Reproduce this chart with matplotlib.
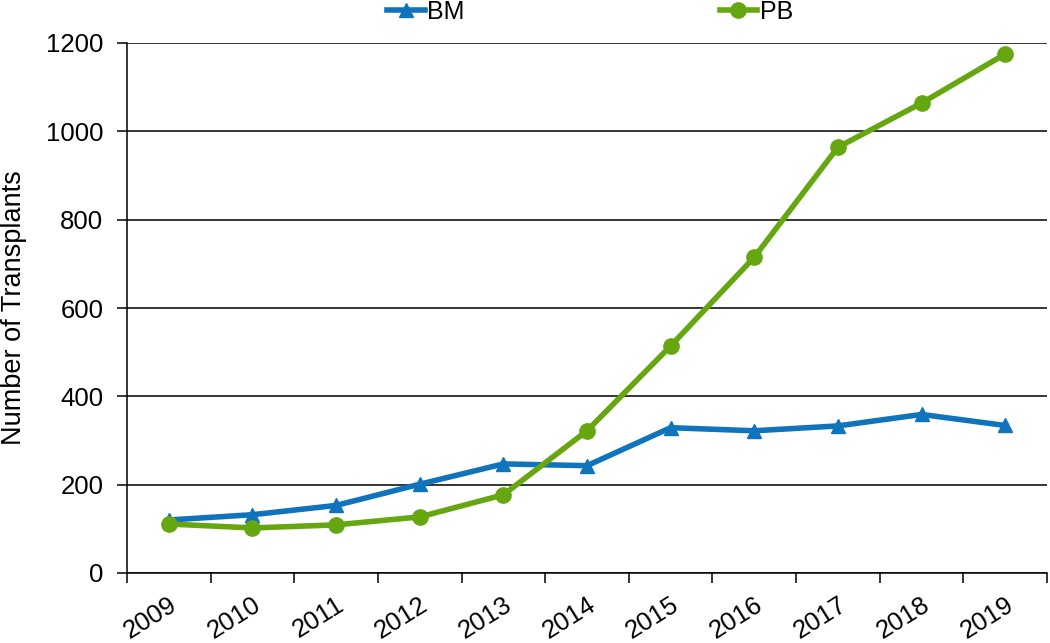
import matplotlib
matplotlib.use("Agg")
import matplotlib.pyplot as plt

years = ["2009", "2010", "2011", "2012", "2013", "2014", "2015", "2016", "2017", "2018", "2019"]
bm = [120, 132, 153, 201, 247, 243, 329, 322, 333, 359, 334]
pb = [111, 102, 109, 127, 177, 322, 514, 715, 964, 1064, 1175]
yticks = [0, 200, 400, 600, 800, 1000, 1200]

plt.rcParams['font.family'] = ['Liberation Sans', 'DejaVu Sans']

fig = plt.figure(figsize=(10.5, 6.43), dpi=100)
ax = fig.add_axes([127/1050, 1 - 573/643, 920/1050, 530/643])

x = list(range(len(years)))
blue = "#0F74BC"
green = "#66A611"
ax.plot(x, bm, color=blue, lw=4, marker="^", ms=10, label="BM", zorder=3)
ax.plot(x, pb, color=green, lw=4, marker="o", ms=11, label="PB", zorder=4)

ax.set_xlim(-0.5, len(years) - 0.5)
ax.set_ylim(0, 1200)
ax.set_yticks(yticks)
ax.set_yticklabels([str(v) for v in yticks], fontsize=18.5)
ax.yaxis.grid(True, color="black", lw=1.1)
ax.set_axisbelow(True)

ax.set_xticks([i - 0.5 for i in range(len(years) + 1)])
ax.set_xticklabels([])
ax.set_xticks(x, minor=True)
ax.set_xticklabels(years, minor=True, rotation=32, ha="right", va="top",
                   rotation_mode="anchor", fontsize=18.5)
ax.tick_params(axis="x", which="minor", length=0, pad=14)
ax.tick_params(axis="x", which="major", length=7, width=1.1, direction="out")
ax.tick_params(axis="y", length=7, width=1.1, direction="out", pad=10)

for s in ["top", "right"]:
    ax.spines[s].set_visible(False)
for s in ["left", "bottom"]:
    ax.spines[s].set_linewidth(1.1)
    ax.spines[s].set_color("black")

ax.set_ylabel("Number of Transplants", fontsize=19.5)
ax.yaxis.set_label_coords(-0.109, 0.5)

fig.legend(loc="center", bbox_to_anchor=(590/1050, 1 - 12/643), ncol=2,
           frameon=False, fontsize=18, handlelength=1.5, handletextpad=0.1,
           columnspacing=10.2, borderpad=0)

fig.savefig("out.png", dpi=100)
